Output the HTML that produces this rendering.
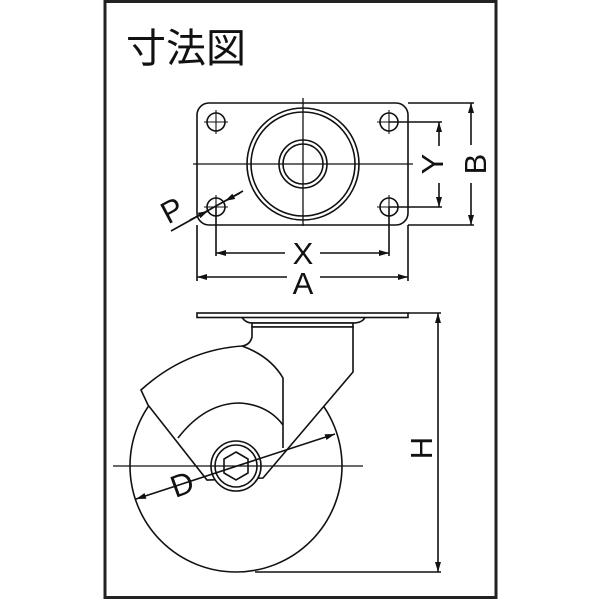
<!DOCTYPE html>
<html><head><meta charset="utf-8"><style>
html,body{margin:0;padding:0;background:#fff}
svg{display:block}
text{font-family:"Liberation Sans","Noto Sans CJK JP",sans-serif;fill:#111}
</style></head><body>
<svg width="600" height="600" viewBox="0 0 600 600" xmlns="http://www.w3.org/2000/svg">
<defs>
<marker id="ar" viewBox="0 0 10 6" refX="10" refY="3" markerWidth="10" markerHeight="6" orient="auto-start-reverse" markerUnits="userSpaceOnUse"><path d="M0,0 L10,3 L0,6 Z" fill="#111"/></marker>
</defs>
<rect x="105" y="1.5" width="391" height="596" fill="none" stroke="#222" stroke-width="3"/>
<text x="126" y="62" font-size="40">寸法図</text>

<g stroke="#111" fill="none" stroke-width="1.6">
<rect x="197" y="103" width="211" height="122" rx="12"/>
<circle cx="303" cy="164" r="56"/><circle cx="303" cy="164" r="52"/>
<circle cx="303" cy="164" r="24"/><circle cx="303" cy="164" r="20"/>
<g stroke-width="1.3">
<line x1="193" y1="164" x2="413" y2="164"/><line x1="303" y1="98" x2="303" y2="226"/>
</g>
<g>
<circle cx="216" cy="122" r="9"/><circle cx="389" cy="122" r="9"/>
<circle cx="216" cy="207" r="9"/><circle cx="389" cy="207" r="9"/>
<path d="M204,122h24M216,110v24M377,122h24M389,110v24M204,207h24M216,195v24M377,207h24M389,195v24" stroke-width="1.1"/>
</g>
<line x1="389" y1="122" x2="442" y2="122"/><line x1="389" y1="207" x2="442" y2="207"/>
<line x1="439" y1="122" x2="439" y2="146" marker-start="url(#ar)"/>
<line x1="439" y1="183" x2="439" y2="207" marker-end="url(#ar)"/>
<line x1="408" y1="103" x2="474" y2="103"/><line x1="408" y1="225" x2="474" y2="225"/>
<line x1="471" y1="103" x2="471" y2="145" marker-start="url(#ar)"/>
<line x1="471" y1="183" x2="471" y2="225" marker-end="url(#ar)"/>
<line x1="216" y1="207" x2="216" y2="256"/><line x1="389" y1="207" x2="389" y2="256"/>
<line x1="216" y1="253" x2="285" y2="253" marker-start="url(#ar)"/>
<line x1="320" y1="253" x2="389" y2="253" marker-end="url(#ar)"/>
<line x1="197" y1="225" x2="197" y2="281"/><line x1="408" y1="225" x2="408" y2="281"/>
<line x1="197" y1="277" x2="287" y2="277" marker-start="url(#ar)"/>
<line x1="320" y1="277" x2="408" y2="277" marker-end="url(#ar)"/>
<line x1="171" y1="231" x2="243" y2="191"/>
<line x1="190" y1="220" x2="208" y2="211" marker-end="url(#ar)"/>
<line x1="240" y1="193" x2="225" y2="201" marker-end="url(#ar)"/>

<circle cx="236" cy="466" r="106"/>
<rect x="197" y="313" width="211" height="4.5" fill="#fff"/>
<path d="M242,317.5 Q246,323 252,323 L353,323 Q362,323 365,317.5" />
<rect x="252" y="323" width="101" height="4" fill="#fff"/>
<path d="M141,390 L148,405 L207,480 L263,478 L353,372 L353,327 L252,327 L252,337 Q250,345 242,346 Q185,350 141,390 Z" fill="#fff"/>
<path d="M242,346 Q270,356 283,378 L283,448"/>
<path d="M178,438 Q205,403 240,403 Q268,405 283,425"/>
<circle cx="236" cy="466" r="25" fill="#fff"/><circle cx="236" cy="466" r="21"/>
<polygon points="236,452 248,459 248,473 236,480 224,473 224,459"/>
<line x1="113" y1="466" x2="363" y2="466" stroke-width="1.3"/>
<line x1="136" y1="499" x2="335" y2="434" marker-start="url(#ar)" marker-end="url(#ar)"/>
<line x1="408" y1="313" x2="441" y2="313"/><line x1="255" y1="572" x2="441" y2="572"/>
<line x1="438" y1="313" x2="438" y2="572" marker-start="url(#ar)" marker-end="url(#ar)"/>
</g>
<g font-size="31">
<text x="303" y="264" text-anchor="middle">X</text>
<text x="303" y="294" text-anchor="middle">A</text>
<text transform="translate(432,164) rotate(-90)" text-anchor="middle" y="11">Y</text>
<text transform="translate(475,164) rotate(-90)" text-anchor="middle" y="11">B</text>
<text transform="translate(172,210) rotate(-28)" text-anchor="middle" y="11">P</text>
<text transform="translate(182,484) rotate(-20)" text-anchor="middle" y="11">D</text>
<text transform="translate(421,448) rotate(-90)" text-anchor="middle" y="11">H</text>
</g>
</svg>
</body></html>
